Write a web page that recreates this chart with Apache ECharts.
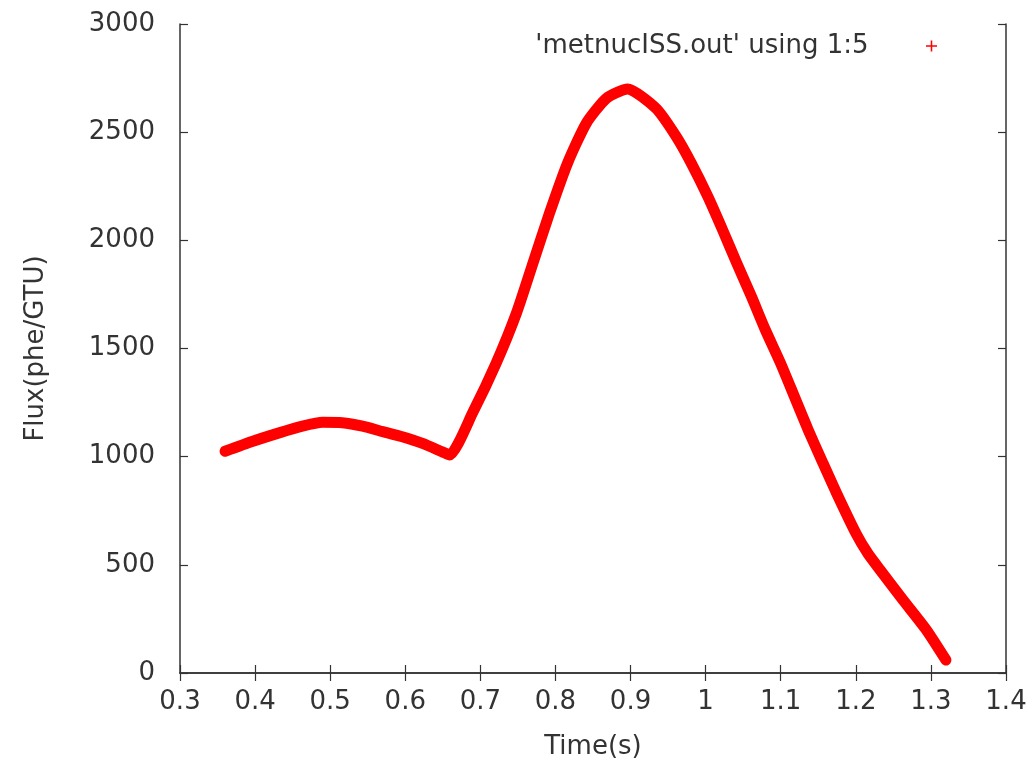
<!DOCTYPE html>
<html>
<head>
<meta charset="utf-8">
<title>metnucISS flux</title>
<script src="https://cdn.jsdelivr.net/npm/echarts@6/dist/echarts.min.js"></script>
<style>
  html, body { margin: 0; padding: 0; background: #ffffff; }
  #chart { width: 1034px; height: 764px; }
</style>
</head>
<body>
<div id="chart"></div>
<script>
// Time (s) of each sample
const timeS = [
  0.360, 0.396, 0.432, 0.463, 0.490, 0.516, 0.543, 0.570, 0.596, 0.623,
  0.650, 0.659, 0.690, 0.721, 0.748, 0.770, 0.792, 0.816, 0.841, 0.868,
  0.896, 0.934, 0.961, 0.981, 1.003, 1.023, 1.041, 1.061, 1.079, 1.099,
  1.117, 1.136, 1.156, 1.174, 1.201, 1.216, 1.232, 1.263, 1.294, 1.320
];
// Flux (phe/GTU) at each sample, column 5 of metnucISS.out
const flux = [
  1025, 1070, 1110, 1141, 1159, 1157, 1141, 1116, 1092, 1061,
  1021, 1008, 1205, 1432, 1663, 1894, 2125, 2356, 2541, 2657,
  2700, 2610, 2479, 2356, 2202, 2045, 1898, 1740, 1590, 1438,
  1288, 1128, 972, 834, 640, 553, 478, 337, 199, 60
];
const seriesName = "'metnucISS.out' using 1:5";
const xTicks = ['0.3', '0.4', '0.5', '0.6', '0.7', '0.8', '0.9', '1', '1.1', '1.2', '1.3', '1.4'];
const yTicks = ['0', '500', '1000', '1500', '2000', '2500', '3000'];

const points = timeS.map((t, i) => [t, flux[i]]);

const FONT = 'DejaVu Sans';
const INK = '#333333';
const FS = 26;
const PLUS = 'path://M8.6,0H11.4V8.6H20V11.4H11.4V20H8.6V11.4H0V8.6H8.6Z';

function axisBase(extra) {
  return Object.assign({
    type: 'value',
    axisLine: { show: true, lineStyle: { color: INK, width: 1.5 } },
    axisTick: { show: true, inside: true, length: 8, lineStyle: { color: INK, width: 1.2 } },
    splitLine: { show: false }
  }, extra);
}

const xLabel = v => xTicks[Math.round((v - 0.3) * 10)] ?? '';
const yLabel = v => yTicks[Math.round(v / 500)] ?? '';

const chart = echarts.init(document.getElementById('chart'), null, { renderer: 'canvas' });
chart.setOption({
  backgroundColor: '#ffffff',
  animation: false,
  textStyle: { fontFamily: FONT },
  grid: {
    left: 180, right: 28, top: 24, bottom: 91,
    containLabel: false,
    outerBoundsMode: 'none'
  },
  legend: {
    data: [{ name: seriesName, icon: PLUS }],
    right: 92,
    top: 28,
    align: 'right',
    itemWidth: 116,
    itemHeight: 11,
    selectedMode: false,
    textStyle: { fontFamily: FONT, fontSize: FS, color: INK }
  },
  xAxis: [
    axisBase({
      position: 'bottom', min: 0.3, max: 1.4, interval: 0.1,
      name: 'Time(s)', nameLocation: 'middle', nameGap: 61,
      nameTextStyle: { fontFamily: FONT, fontSize: FS, color: INK },
      axisLabel: { show: true, margin: 16, fontFamily: FONT, fontSize: FS, color: INK, formatter: xLabel }
    }),
    axisBase({
      position: 'top', min: 0.3, max: 1.4, interval: 0.1,
      axisLabel: { show: false }
    })
  ],
  yAxis: [
    axisBase({
      position: 'left', min: 0, max: 3000, interval: 500,
      name: 'Flux(phe/GTU)', nameLocation: 'middle', nameGap: 131, nameRotate: 90,
      nameTextStyle: { fontFamily: FONT, fontSize: FS, color: INK },
      axisLabel: { show: true, margin: 25, fontFamily: FONT, fontSize: FS, color: INK, formatter: yLabel }
    }),
    axisBase({
      position: 'right', min: 0, max: 3000, interval: 500,
      axisLabel: { show: false }
    })
  ],
  series: [{
    name: seriesName,
    type: 'line',
    xAxisIndex: 0,
    yAxisIndex: 0,
    data: points,
    smooth: 0.2,
    symbol: 'none',
    color: '#ff0000',
    lineStyle: { color: '#ff0000', width: 11, cap: 'round', join: 'round' },
    itemStyle: { color: '#ff0000' }
  }]
});
</script>
</body>
</html>
